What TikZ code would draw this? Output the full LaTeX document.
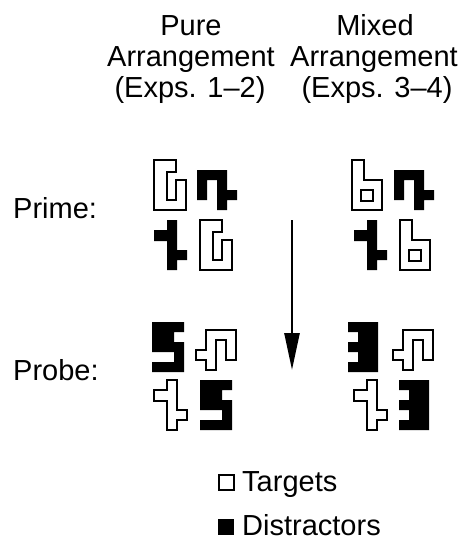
\documentclass[tikz,border=0pt]{standalone}
\usepackage{fontspec}
\setmainfont{Liberation Sans}
\usetikzlibrary{arrows.meta}

\tikzset{
  target/.style={draw=black,fill=white,line width=1.8pt,line join=miter},
  distractor/.style={fill=black},
  % novel shapes, drawn from their top left corner (1 unit = 1px, y down)
  shapeG/.pic={\path[pic actions] (0,0) -- (22,0) -- (22,12) -- (13,12) -- (13,40) -- (22,40)
      -- (22,20) -- (32,20) -- (32,50) -- (0,50) -- cycle;},
  shapeb/.pic={\path[pic actions,even odd rule] (0,0) -- (12,0) -- (12,20) -- (30,20) -- (30,50)
      -- (0,50) -- cycle (9,30) rectangle (21,41);},
  shapeA/.pic={\path[pic actions] (0,0) -- (30,0) -- (30,20) -- (40,20) -- (40,30) -- (30,30)
      -- (30,40) -- (20,40) -- (20,10) -- (10,10) -- (10,30) -- (0,30) -- cycle;},
  shapeB/.pic={\path[pic actions] (10,0) -- (20,0) -- (20,30) -- (30,30) -- (30,40) -- (20,40)
      -- (20,50) -- (10,50) -- (10,21) -- (-3,21) -- (-3,10) -- (10,10) -- cycle;},
  shapeE/.pic={\path[pic actions] (0,0) -- (32,0) -- (32,10) -- (22,10) -- (22,20) -- (32,20)
      -- (32,50) -- (0,50) -- (0,40) -- (22,40) -- (22,30) -- (0,30) -- cycle;},
  shapeF/.pic={\path[pic actions] (0,0) -- (30,0) -- (30,50) -- (0,50) -- (0,40) -- (10,40)
      -- (10,30) -- (0,30) -- (0,20) -- (10,20) -- (10,10) -- (0,10) -- cycle;},
}

\begin{document}
\begin{tikzpicture}[x=1pt,y=-1pt,
    lbl/.style={inner sep=0pt,font=\fontsize{29}{34}\selectfont}]
  \path[use as bounding box] (0,0) rectangle (470,541);
  % column heads
  \node[lbl,anchor=base] (pure) at (191,35) {Pure};
  \node[lbl,anchor=base] (purearr) at (191,66) {Arrangement};
  \node[lbl,anchor=base] (pureexp) at (190,97) {(Exps. 1–2)};
  \node[lbl,anchor=base] (mixed) at (375,35) {Mixed};
  \node[lbl,anchor=base] (mixedarr) at (374,66) {Arrangement};
  \node[lbl,anchor=base] (mixedexp) at (377,97) {(Exps. 3–4)};
  % row labels
  \node[lbl,anchor=base west] (prime) at (13,218) {Prime:};
  \node[lbl,anchor=base west] (probe) at (13,380) {Probe:};
  % prime displays
  \foreach \p in {(154,160),(200,220)} \pic[target] at \p {shapeG};
  \foreach \p in {(352,160),(400,220)} \pic[target] at \p {shapeb};
  \foreach \p in {(197,170),(394,170)} \pic[distractor] at \p {shapeA};
  \foreach \p in {(157,220),(357,220)} \pic[distractor] at \p {shapeB};
  % probe displays
  \foreach \p in {(236,330),(433,330)} \pic[target,xscale=-1] at \p {shapeA};
  \foreach \p in {(157,380),(357,380)} \pic[target] at \p {shapeB};
  \foreach \p in {(152,322),(200,380)} \pic[distractor] at \p {shapeE};
  \foreach \p in {(348,322),(399,380)} \pic[distractor] at \p {shapeF};
  % prime -> probe
  \coordinate (arrowtop) at (292,220);
  \coordinate (arrowtip) at (292,370);
  \draw[line width=2.6pt,-{Triangle[length=37pt,width=15pt]}] (arrowtop) -- (arrowtip);
  % legend
  \node[target,inner sep=0pt,minimum size=15pt,anchor=south west] (tbox) at (218,491) {};
  \node[distractor,inner sep=0pt,minimum size=16pt,anchor=south west] (dbox) at (218,535) {};
  \node[lbl,anchor=base west] (tlbl) at (242,491) {Targets};
  \node[lbl,anchor=base west] (dlbl) at (242,535) {Distractors};
\end{tikzpicture}
\end{document}
